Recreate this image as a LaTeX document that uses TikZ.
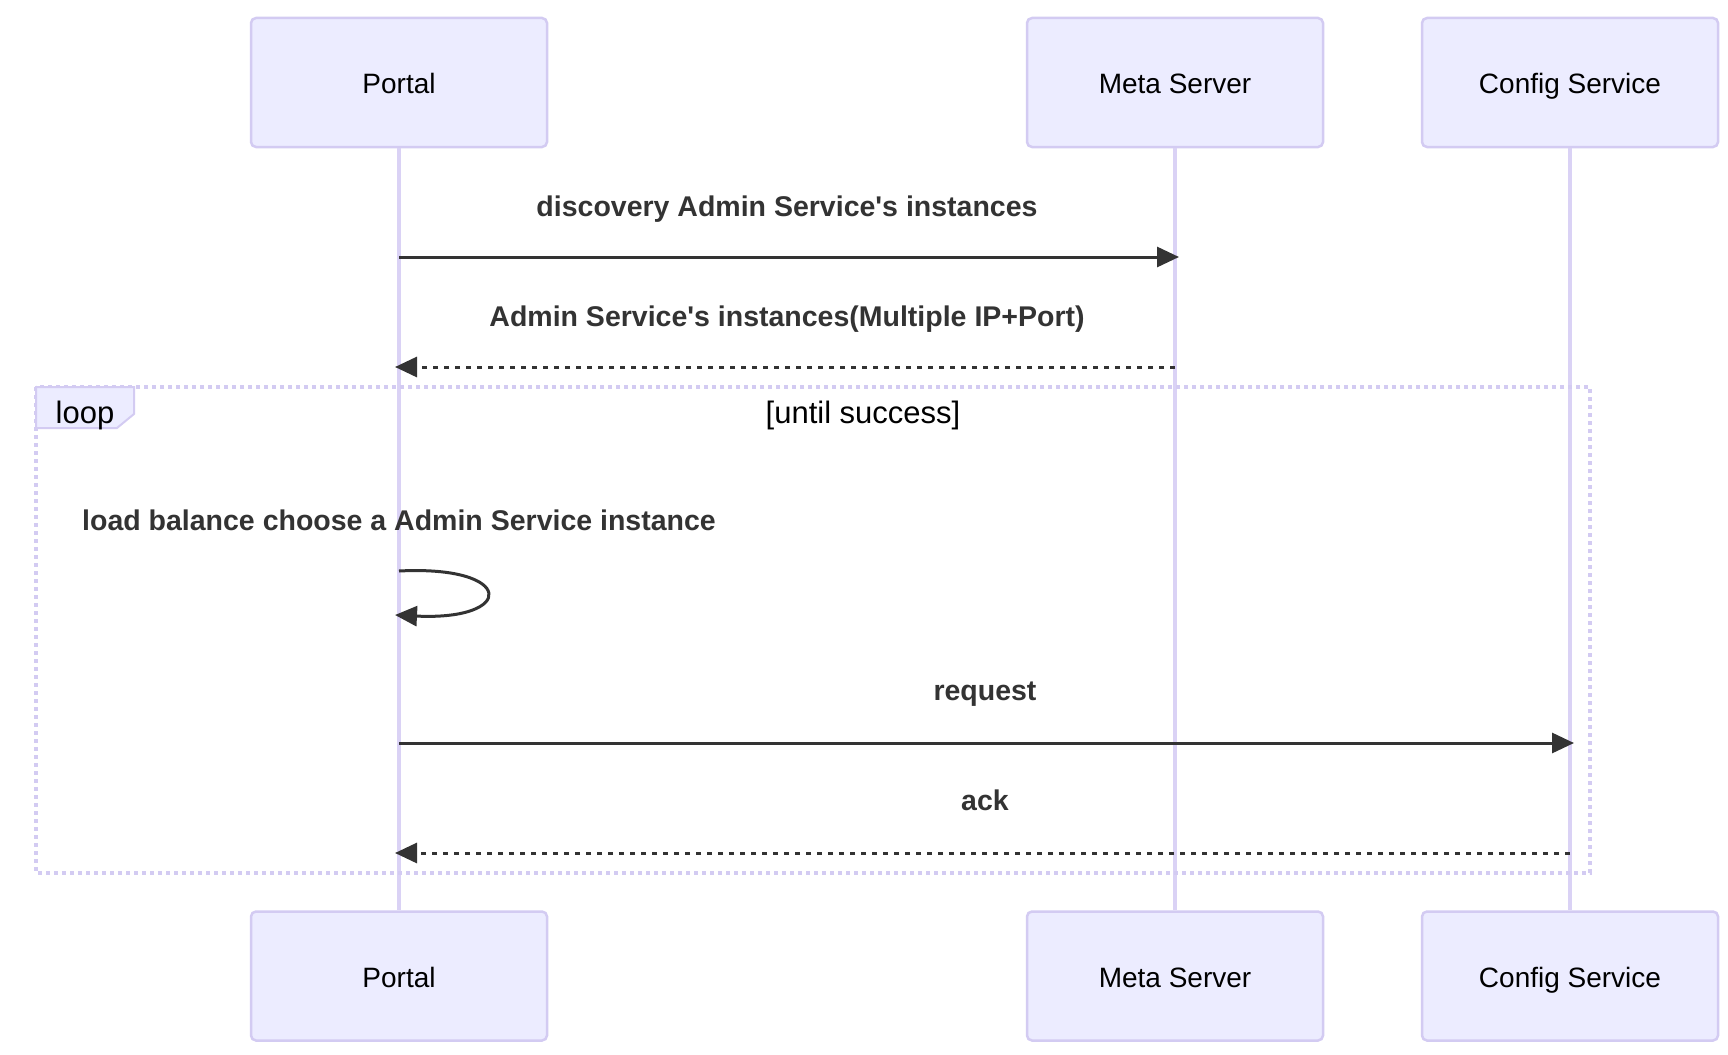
\documentclass[tikz,border=0pt]{standalone}
\usepackage{fontspec}
\setmainfont{Liberation Sans}[Ligatures=TeXOff]
\usetikzlibrary{arrows.meta}
\definecolor{actfill}{HTML}{ECECFF}
\definecolor{actline}{HTML}{D3CBF2}
\definecolor{lifeln}{HTML}{DAD2F5}
\definecolor{msgcol}{HTML}{333333}
\begin{document}
\begin{tikzpicture}[x=1pt,y=-1pt,
  actor/.style={draw=actline, line width=2.5pt, fill=actfill, rounded corners=5pt,
    minimum width=296pt, minimum height=129pt, inner sep=0pt,
    text height=23pt, text depth=0pt,
    font=\fontsize{28}{34}\selectfont, text=black},
  lifeline/.style={draw=lifeln, line width=3.2pt},
  msglabel/.style={font=\fontsize{28.5}{34}\selectfont\bfseries, text=msgcol, inner sep=0pt,
    text height=21pt, text depth=0pt},
  solidmsg/.style={draw=msgcol, line width=3pt, -{Triangle[length=22pt,width=20pt]}},
  dashmsg/.style={draw=msgcol, line width=3pt, dash pattern=on 5.5pt off 5.5pt, -{Triangle[length=22pt,width=20pt]}},
  loopframe/.style={draw=actline, line width=3.5pt, dash pattern=on 4pt off 4pt},
  looptext/.style={font=\fontsize{31}{36}\selectfont, text=black, inner sep=0pt,
    text height=23pt, text depth=0pt}
]
\useasboundingbox (0,0) rectangle (1728,1054);

% actors
\node[actor] (pt) at (399,82.5) {Portal};
\node[actor] (mt) at (1175,82.5) {Meta Server};
\node[actor] (ct) at (1570,82.5) {Config Service};
\node[actor] (pb) at (399,976) {Portal};
\node[actor] (mb) at (1175,976) {Meta Server};
\node[actor] (cb) at (1570,976) {Config Service};

% lifelines
\draw[lifeline] (pt.south) -- (pb.north);
\draw[lifeline] (mt.south) -- (mb.north);
\draw[lifeline] (ct.south) -- (cb.north);

% loop frame
\draw[loopframe] (36,387) rectangle (1590,873);
\draw[draw=actline, line width=2pt, fill=actfill] (36,387) -- (134,387) -- (134,414) -- (117,428) -- (36,428) -- cycle;
\node[looptext] (looplbl) at (85,412) {loop};
\node[looptext] (loopcond) at (863,412) {[until success]};

% message 1
\coordinate (a1) at (399,257);
\coordinate (b1) at (1179,257);
\node[msglabel] (l1) at (787,206) {discovery Admin Service's instances};
\draw[solidmsg] (a1) -- (b1);

% message 2
\coordinate (a2) at (1175,367);
\coordinate (b2) at (395,367);
\node[msglabel] (l2) at (787,316) {Admin Service's instances(Multiple IP+Port)};
\draw[dashmsg] (a2) -- (b2);

% self message
\coordinate (s1) at (399,571);
\coordinate (s2) at (395,615);
\node[msglabel] (l3) at (399,520) {load balance choose a Admin Service instance};
\draw[solidmsg] (s1) .. controls +(117,-6) and +(121,6) .. (s2);

% request
\coordinate (a4) at (399,743);
\coordinate (b4) at (1574,743);
\node[msglabel] (l4) at (985,690) {request};
\draw[solidmsg] (a4) -- (b4);

% ack
\coordinate (a5) at (1570,853);
\coordinate (b5) at (395,853);
\node[msglabel] (l5) at (985,800) {ack};
\draw[dashmsg] (a5) -- (b5);
\end{tikzpicture}
\end{document}
